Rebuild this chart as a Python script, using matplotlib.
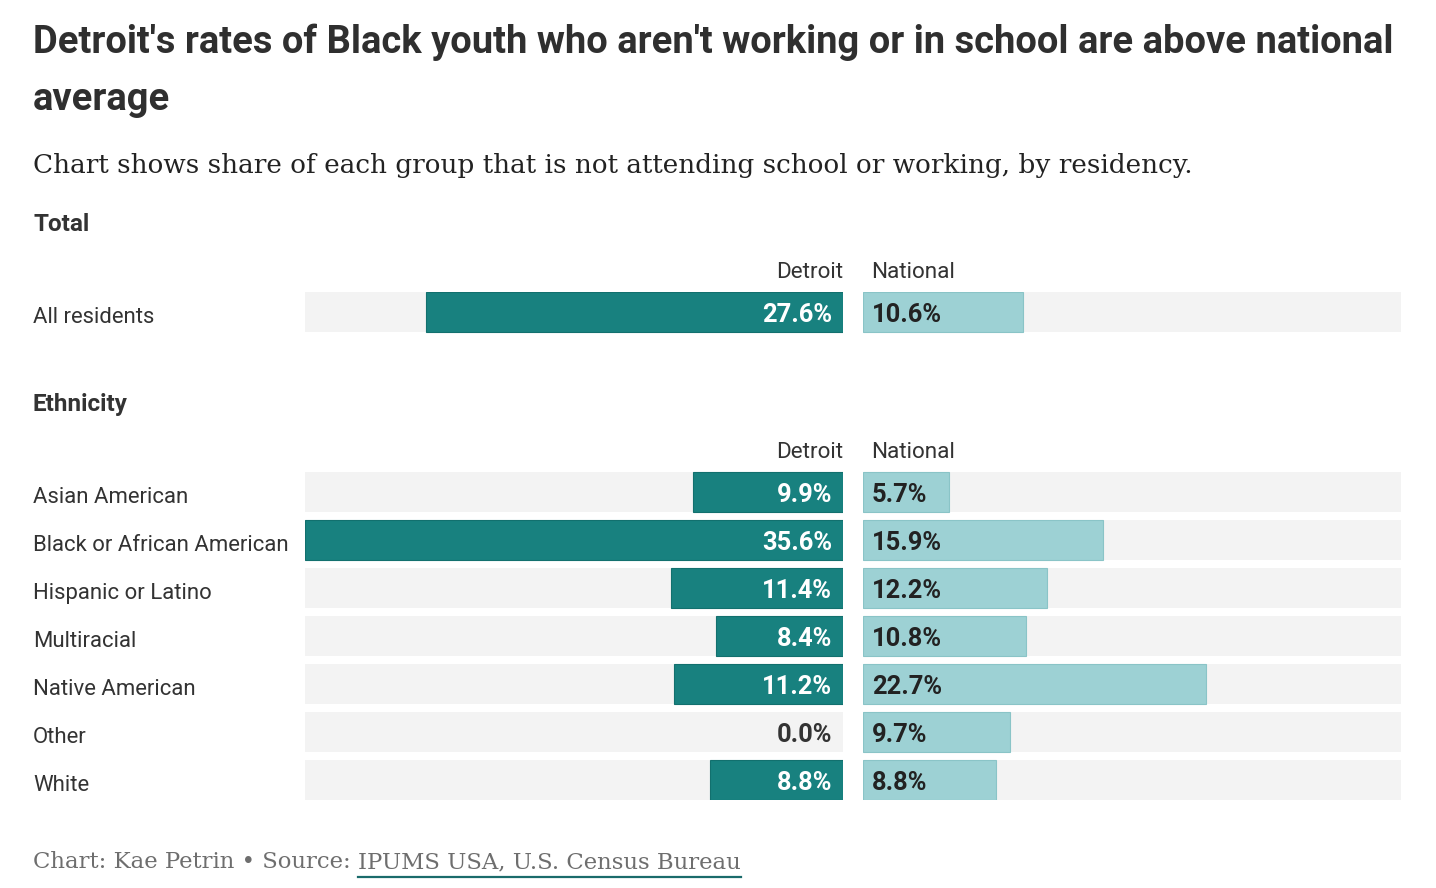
import matplotlib
matplotlib.use('Agg')
import matplotlib.pyplot as plt
from matplotlib.lines import Line2D

W, H = 1436, 888
DPI = 100

# ---------------- data ----------------
title_lines = ["Detroit's rates of Black youth who aren't working or in school are above national",
               "average"]
subtitle = "Chart shows share of each group that is not attending school or working, by residency."
section_titles = ["Total", "Ethnicity"]
col_headers = ["Detroit", "National"]

total_categories = ["All residents"]
total_detroit = [27.6]
total_national = [10.6]

eth_categories = ["Asian American", "Black or African American", "Hispanic or Latino",
                  "Multiracial", "Native American", "Other", "White"]
eth_detroit = [9.9, 35.6, 11.4, 8.4, 11.2, 0.0, 8.8]
eth_national = [5.7, 15.9, 12.2, 10.8, 22.7, 9.7, 8.8]

footer_plain = "Chart: Kae Petrin \u2022 Source: "
footer_link = "IPUMS USA, U.S. Census Bureau"

# ---------------- style ----------------
COND = ['Liberation Sans Narrow', 'Roboto', 'DejaVu Sans']
SERIF = ['DejaVu Serif']
DARK = '#18817f'
DARK_EDGE = '#12706e'
LIGHT = '#9dd1d4'
LIGHT_EDGE = '#8ac4c7'
BG = '#f3f3f3'
TXT = '#333333'

fig = plt.figure(figsize=(W / DPI, H / DPI), dpi=DPI)
fig.patch.set_facecolor('white')
renderer = fig.canvas.get_renderer()


def px(x, y):
    return x / W, 1 - y / H


def size_for(s, width, size0=20, **kw):
    t = fig.text(0, 0, s, fontsize=size0, **kw)
    w = t.get_window_extent(renderer).width
    t.remove()
    return size0 * width / w


def put(s, x, y, size, ha='left', va='baseline', **kw):
    return fig.text(*px(x, y), s, fontsize=size, ha=ha, va=va, **kw)


# title
ts = size_for(title_lines[0], 1355, family=COND, weight='bold')
put(title_lines[0], 33, 53, ts, family=COND, weight='bold', color='#2f2f2f')
put(title_lines[1], 33, 110, ts, family=COND, weight='bold', color='#2f2f2f')

# subtitle
ss = size_for(subtitle, 1157, family=SERIF)
put(subtitle, 33, 173, ss, family=SERIF, color='#222222')

# label sizes
ls = size_for("Black or African American", 255, family=COND)
vs = size_for("35.6%", 70, family=COND, weight='bold')
hs = size_for("National", 84, family=COND)
sec = size_for("Ethnicity", 95, family=COND, weight='bold')

# sections and headers
put(section_titles[0], 33, 231, sec, family=COND, weight='bold', color=TXT)
put(section_titles[1], 33, 411, sec, family=COND, weight='bold', color=TXT)
for hy in (278, 458):
    put(col_headers[0], 843, hy, hs, ha='right', family=COND, color=TXT)
    put(col_headers[1], 871, hy, hs, ha='left', family=COND, color=TXT)

# ---------------- bars ----------------
categories = total_categories + eth_categories
detroit = total_detroit + eth_detroit
national = total_national + eth_national
ys = [312] + [492 + 48 * i for i in range(len(eth_categories))]
xmax = max(detroit + national)

top, bottom = 292, 800
axL = fig.add_axes([305 / W, (H - bottom) / H, 538 / W, (bottom - top) / H])
axR = fig.add_axes([863 / W, (H - bottom) / H, 538 / W, (bottom - top) / H])
for ax in (axL, axR):
    ax.set_ylim(bottom, top)
    ax.axis('off')
axL.set_xlim(xmax, 0)
axR.set_xlim(0, xmax)

axL.barh(ys, [xmax] * len(ys), height=40, color=BG, linewidth=0)
axR.barh(ys, [xmax] * len(ys), height=40, color=BG, linewidth=0)
axL.barh(ys, detroit, height=40, color=DARK,
         edgecolor=[DARK_EDGE if d > 0 else 'none' for d in detroit], linewidth=0.8)
axR.barh(ys, national, height=40, color=LIGHT,
         edgecolor=[LIGHT_EDGE if n > 0 else 'none' for n in national], linewidth=0.8)

cap_half = 10  # px, half cap-height for baseline placement
for y, d, n in zip(ys, detroit, national):
    col = 'white' if d > 0 else TXT
    axL.annotate(f"{d:.1f}%", xy=(0, y + cap_half), xytext=(-11 * 72 / DPI, 0),
                 textcoords='offset points', ha='right', va='baseline',
                 fontsize=vs, family=COND, weight='bold', color=col)
    axR.annotate(f"{n:.1f}%", xy=(0, y + cap_half), xytext=(9 * 72 / DPI, 0),
                 textcoords='offset points', ha='left', va='baseline',
                 fontsize=vs, family=COND, weight='bold', color='#222222')

for y, c in zip(ys, categories):
    put(c, 33, y + 11, ls, family=COND, color=TXT)

# ---------------- footer ----------------
fs = size_for(footer_plain + footer_link, 708, family=SERIF)
t1 = put(footer_plain, 33, 868, fs, family=SERIF, color='#6e6e6e')
w1 = t1.get_window_extent(renderer).width
t2 = put(footer_link, 33 + w1, 868, fs, family=SERIF, color='#6e6e6e')
w2 = t2.get_window_extent(renderer).width
x0 = 33 + w1
fig.add_artist(Line2D([x0 / W, (x0 + w2) / W], [1 - 877 / H, 1 - 877 / H],
                      transform=fig.transFigure, color='#1a6b6b', lw=1.6))

fig.savefig('out.png', dpi=DPI, facecolor='white')
